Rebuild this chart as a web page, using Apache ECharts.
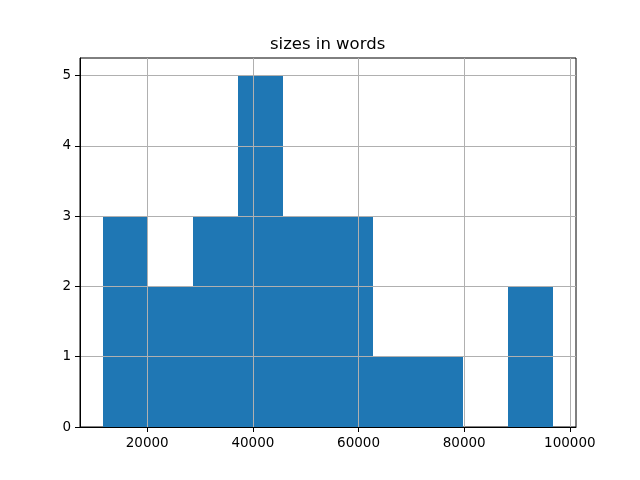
<!DOCTYPE html>
<html><head><meta charset="utf-8">
<script src="https://cdn.jsdelivr.net/npm/echarts@6/dist/echarts.min.js"></script>
<style>html,body{margin:0;padding:0;background:#fff}#c{width:640px;height:480px}</style>
</head><body><div id="c"></div>
<script>
const titleText = "sizes in words";
const binEdges = [11550, 20085, 28620, 37155, 45690, 54225, 62760, 71295, 79830, 88365, 96900];
const counts = [3, 2, 3, 5, 3, 3, 1, 1, 0, 2];
const xTicks = [20000, 40000, 60000, 80000, 100000];
const yTicks = [0, 1, 2, 3, 4, 5];

const data = counts.map((c, i) => [binEdges[i], binEdges[i + 1], c]);
const span = binEdges[binEdges.length - 1] - binEdges[0];
const xMin = binEdges[0] - span * 0.05;
const xMax = binEdges[binEdges.length - 1] + span * 0.05;
const yMax = Math.max(...counts) * 1.05;

const font = '"DejaVu Sans", sans-serif';
const chart = echarts.init(document.getElementById('c'), null, {renderer: 'canvas'});
chart.setOption({
  animation: false,
  title: {text: titleText, left: 265, top: 31, padding: [5, 5, 5, 5],
    textStyle: {fontFamily: font, fontSize: 16.5, fontWeight: 'normal', color: '#000'}},
  grid: {left: 80, right: 64, top: 58, bottom: 53, show: true, borderColor: '#000', borderWidth: 1, containLabel: false},
  xAxis: {
    type: 'value', min: xMin, max: xMax, z: 5,
    axisLine: {show: true, onZero: false, lineStyle: {color: '#000', width: 1}},
    axisTick: {show: true, length: 5, customValues: xTicks, lineStyle: {color: '#000', width: 1}},
    axisLabel: {customValues: xTicks, color: '#000', fontFamily: font, fontSize: 13.5, margin: 9,
      formatter: v => String(Math.round(v))},
    splitLine: {show: true, lineStyle: {color: '#b0b0b0', width: 1}}
  },
  yAxis: {
    type: 'value', min: 0, max: yMax, z: 5,
    axisLine: {show: true, onZero: false, lineStyle: {color: '#000', width: 1}},
    axisTick: {show: true, length: 5, customValues: yTicks, lineStyle: {color: '#000', width: 1}},
    axisLabel: {customValues: yTicks, color: '#000', fontFamily: font, fontSize: 13.5, margin: 9,
      formatter: v => String(Math.round(v))},
    splitLine: {show: true, lineStyle: {color: '#b0b0b0', width: 1}}
  },
  series: [{
    type: 'custom', z: 2,
    renderItem: (params, api) => {
      const p0 = api.coord([api.value(0), 0]);
      const p1 = api.coord([api.value(1), api.value(2)]);
      const x0 = Math.round(p0[0]), x1 = Math.round(p1[0]);
      const yb = Math.round(p0[1]), yt = Math.round(p1[1]);
      return {type: 'rect', shape: {x: x0, y: yt, width: x1 - x0, height: yb - yt},
        style: {fill: '#1f77b4'}};
    },
    encode: {x: [0, 1], y: 2},
    data: data
  }]
});
</script></body></html>
